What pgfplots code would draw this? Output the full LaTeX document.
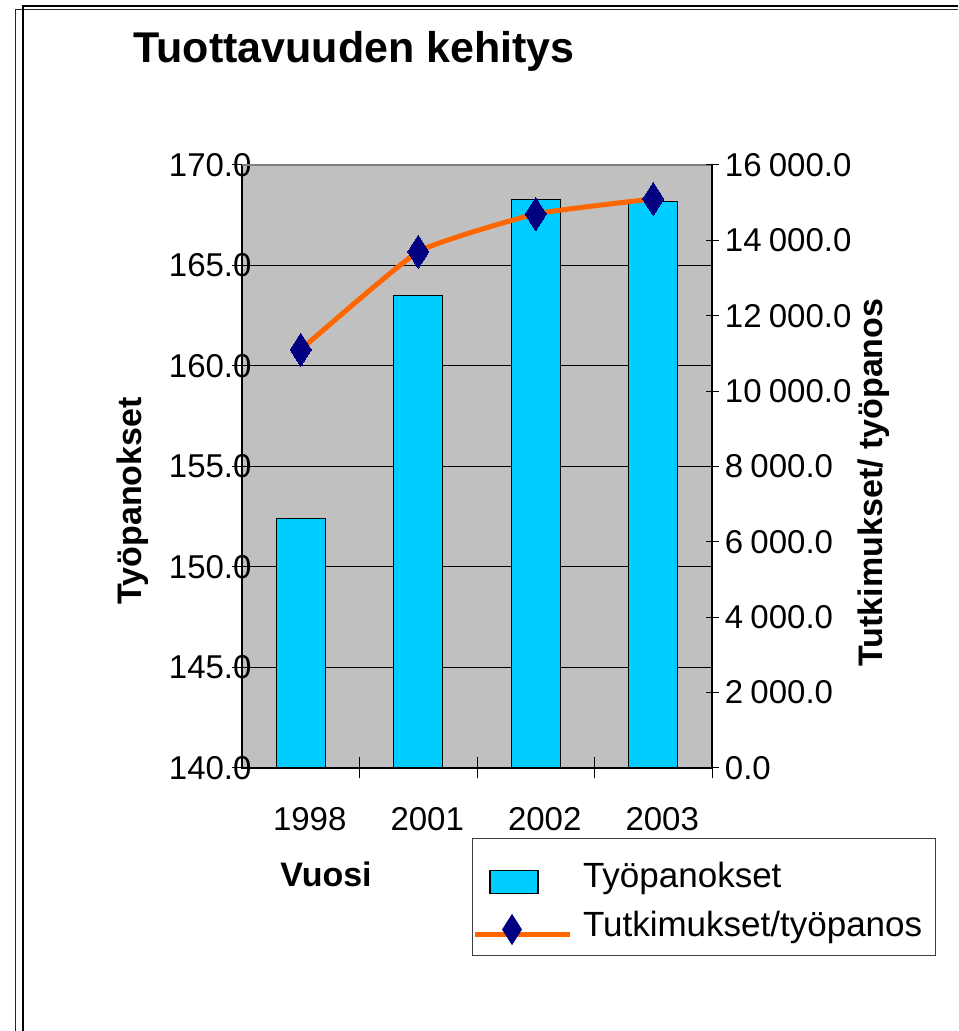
\documentclass[border=0pt]{standalone}
\usepackage{pgfplots}
\pgfplotsset{compat=1.18}
\usepackage{fontspec}
\setmainfont{Liberation Sans}
\definecolor{barcyan}{HTML}{00CCFF}
\definecolor{lineorange}{HTML}{FF6600}
\definecolor{marknavy}{HTML}{000080}
\definecolor{plotgray}{HTML}{C0C0C0}
\definecolor{bordergray}{HTML}{808080}
\newcommand{\tickfont}{\fontsize{16.5}{19}\selectfont}
\newcommand{\legfont}{\fontsize{17.5}{20}\selectfont}
\newcommand{\labfont}{\bfseries\fontsize{17}{20}\selectfont}
\begin{document}
\begin{tikzpicture}
\useasboundingbox (0,0) rectangle (479pt,515.5pt);
% outer frame
\draw[line width=0.75pt, black!85] (7.75pt,0pt) -- (7.75pt,510.85pt) -- (479pt,510.85pt);
\draw[line width=1pt, black] (11.5pt,0pt) -- (11.5pt,512.65pt) -- (479pt,512.65pt);
\node[anchor=base west, inner sep=0pt, font=\bfseries\fontsize{21.5}{24}\selectfont] at (66.5pt,484pt) {Tuottavuuden kehitys};

\begin{axis}[
  at={(121pt,131.5pt)}, anchor=south west,
  scale only axis, width=235pt, height=301.5pt,
  xmin=-0.5, xmax=3.5, ymin=140, ymax=170,
  axis background/.style={fill=plotgray},
  axis line style={black, line width=0.6pt},
  xtick pos=bottom, ytick pos=left,
  tick align=center,
  xtick={0.5,1.5,2.5,3.5}, xticklabels={},
  major tick length=10.5pt,
  extra x ticks={0,1,2,3},
  extra x tick labels={1998,2001,2002,2003},
  extra x tick style={major tick length=0pt, tick style={draw=none}},
  ytick={140,145,...,170},
  tick style={black, line width=0.5pt},
  ymajorgrids=true,
  major grid style={black, line width=0.5pt},
  scaled y ticks=false,
  /pgf/number format/fixed,
  /pgf/number format/fixed zerofill,
  /pgf/number format/precision=1,
  /pgf/number format/assume math mode=true,
  yticklabel style={font=\tickfont, anchor=east, inner sep=0pt, xshift=10.2pt},
  xticklabel style={font=\tickfont, anchor=north, inner sep=0pt, yshift=-19.5pt, xshift=4.5pt},
  ylabel={Työpanokset},
  ylabel style={font=\labfont, at={(axis description cs:-0.2319,0.4428)}, anchor=center},
  xlabel={Vuosi},
  xlabel style={font=\labfont, at={(axis description cs:0.1787,-0.1973)}, anchor=base},
]
\addplot[ybar, bar width=24.5pt, fill=barcyan, draw=black, line width=0.6pt]
  coordinates {(0,152.4) (1,163.5) (2,168.3) (3,168.2)};
\draw[bordergray, line width=0.6pt] (rel axis cs:0,1) -- (rel axis cs:1,1);
\end{axis}

\begin{axis}[
  at={(121pt,131.5pt)}, anchor=south west,
  scale only axis, width=235pt, height=301.5pt,
  xmin=-0.5, xmax=3.5, ymin=0, ymax=16000,
  axis x line=none, axis y line*=right,
  axis line style={black, line width=0.6pt},
  ytick={0,2000,...,16000},
  tick align=center, major tick length=6.5pt,
  tick style={black, line width=0.5pt},
  scaled y ticks=false,
  /pgf/number format/fixed,
  /pgf/number format/fixed zerofill,
  /pgf/number format/precision=1,
  /pgf/number format/1000 sep={\hspace{0.22em}},
  /pgf/number format/assume math mode=true,
  yticklabel style={font=\tickfont, anchor=west, inner sep=0pt, xshift=3pt},
  ylabel={Tutkimukset/ työpanos},
  ylabel style={font=\labfont, at={(axis description cs:1.3447,0.4735)}, anchor=center},
  legend style={at={(0.4894,-0.1161)}, anchor=north west, draw=black!75, line width=0.5pt,
    inner xsep=0pt, inner ysep=0pt, font=\legfont, row sep=0pt,
    cells={anchor=base west}, nodes={inner sep=0pt}},
]
\addlegendimage{legend image code/.code={
  \path[draw=none, fill=none] (0pt,-9.5pt) rectangle (54pt,24.5pt);
  \draw[fill=barcyan, draw=black, line width=0.6pt] (7.5pt,-2.8pt) rectangle (31.5pt,8.35pt);
}}
\addlegendentry{\makebox[176pt][l]{Työpanokset}}
\addplot[lineorange, line width=2.5pt, smooth, tension=0.25,
  mark=diamond*, mark size=8.25pt,
  mark options={fill=marknavy, draw=marknavy, line width=0pt, xscale=0.85},
  legend image code/.code={
    \path[draw=none, fill=none] (0pt,-9.5pt) rectangle (54pt,15pt);
    \draw[lineorange, line width=2.5pt] (0pt,1pt) -- (47.5pt,1pt);
    \fill[marknavy] (18.5pt,9pt) -- (22pt,3.5pt) -- (18.5pt,-2pt) -- (15pt,3.5pt) -- cycle;
  }]
  coordinates {(0,11100) (1,13700) (2,14700) (3,15100)};
\addlegendentry{\makebox[176pt][l]{Tutkimukset/työpanos}}
\end{axis}
\end{tikzpicture}
\end{document}
